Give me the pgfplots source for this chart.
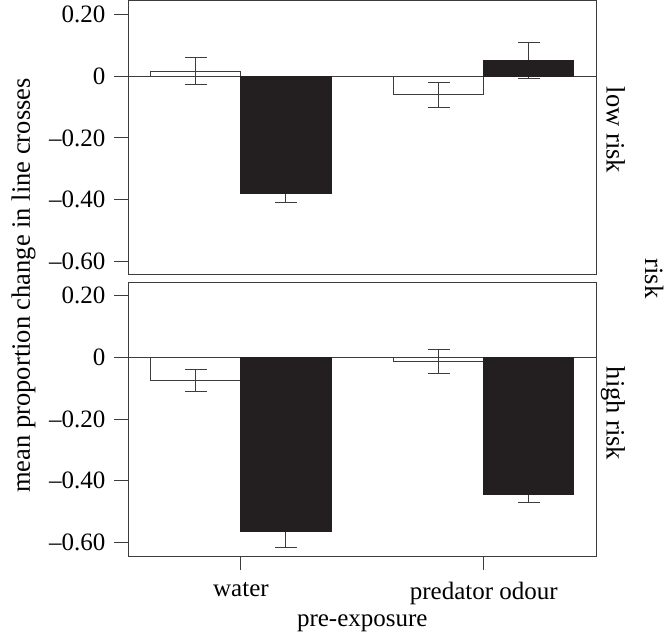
\documentclass[border=0pt]{standalone}
\usepackage{fontspec}
\setmainfont{Liberation Serif}
\usepackage{pgfplots}
\pgfplotsset{compat=1.18}
\definecolor{lc}{RGB}{60,60,60}
\definecolor{barblack}{RGB}{35,31,32}
\pgfplotsset{
  panel/.style={
    scale only axis,
    width=468.7pt,
    xmin=-0.465, xmax=1.465,
    ymin=-0.644, ymax=0.244,
    ytick={-0.6,-0.4,-0.2,0,0.2},
    yticklabels={–0.60,–0.40,–0.20,0,0.20},
    ytick pos=left,
    tick align=outside,
    major tick length=14pt,
    axis line style={lc, line width=1pt},
    every tick/.style={lc, line width=1pt},
    xticklabel style={yshift=-4pt},
  },
  wbar/.style={ybar, bar width=0.371, bar shift=0, fill=white, draw=lc, line width=1pt},
  bbar/.style={ybar, bar width=0.371, bar shift=0, fill=barblack, draw=barblack, line width=1pt},
  ebar/.style={draw=none, mark=none, forget plot,
    error bars/.cd, y dir=both, y explicit, error mark=-,
    error bar style={draw=lc, line width=1pt},
    error mark options={draw=lc, rotate=90, mark size=11pt, line width=1pt}},
}
\begin{document}
\fontsize{25}{29}\selectfont
\begin{tikzpicture}
\useasboundingbox (0pt,0pt) rectangle (667pt,633pt);
% top panel: low risk
\begin{axis}[panel, at={(128pt,358pt)}, anchor=south west, height=274pt, xtick=\empty]
\addplot[lc, line width=1pt, forget plot] coordinates {(-0.465,0) (1.465,0)};
\addplot[wbar] coordinates {(-0.1855,0.017) (0.8145,-0.060)};
\addplot[ebar] coordinates {(-0.1855,0.017) +- (0,0.044) (0.8145,-0.060) +- (0,0.041)
  (0.1855,-0.381) +- (0,0.027) (1.1855,0.050) +- (0,0.058)};
\addplot[bbar] coordinates {(0.1855,-0.381) (1.1855,0.050)};
\end{axis}
% bottom panel: high risk
\begin{axis}[panel, at={(128pt,77pt)}, anchor=south west, height=273.7pt,
  xtick={0,1}, xticklabels={water, predator odour}, xtick pos=bottom]
\addplot[lc, line width=1pt, forget plot] coordinates {(-0.465,0) (1.465,0)};
\addplot[wbar] coordinates {(-0.1855,-0.075) (0.8145,-0.012)};
\addplot[ebar] coordinates {(-0.1855,-0.075) +- (0,0.036) (0.8145,-0.012) +- (0,0.039)
  (0.1855,-0.565) +- (0,0.051) (1.1855,-0.444) +- (0,0.027)};
\addplot[bbar] coordinates {(0.1855,-0.565) (1.1855,-0.444)};
\end{axis}
\begin{scope}[font=\fontsize{26.5}{30}\selectfont]
\node[rotate=-90, anchor=base] at (606.5pt,503pt) {low risk};
\node[rotate=-90, anchor=base] at (606.5pt,219.5pt) {high risk};
\node[rotate=-90, anchor=base] at (645pt,354.5pt) {risk};
\node[rotate=90, anchor=base] at (30pt,347.5pt) {mean proportion change in line crosses};
\end{scope}
\node[anchor=base] at (362.3pt,7pt) {pre-exposure};
\end{tikzpicture}
\end{document}
